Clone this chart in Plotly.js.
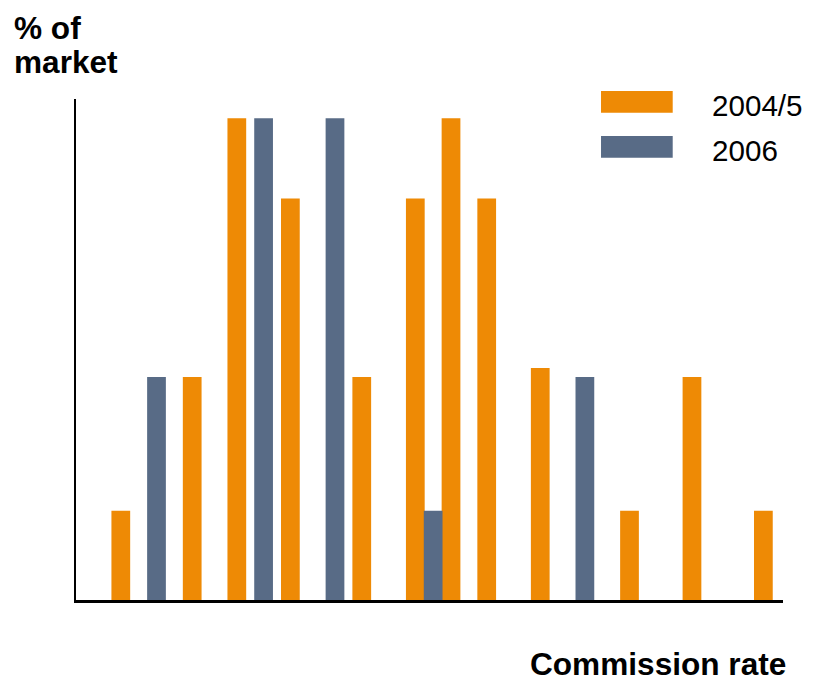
<!DOCTYPE html>
<html>
<head>
<meta charset="utf-8">
<script src="https://cdn.plot.ly/plotly-3.0.1.min.js"></script>
<style>
  html, body { margin: 0; padding: 0; background: #ffffff; }
  #chart { width: 813px; height: 679px; }
</style>
</head>
<body>
<div id="chart"></div>
<script>
// Commission-rate steps (no tick labels are shown on the axis)
const rates2004 = [0, 8, 13, 19, 27, 33, 37, 41, 47, 57, 64, 72];
const share2004 = [2, 5, 10.8, 9, 5, 9, 10.8, 9, 5.2, 2, 5, 2];

const rates2006 = [4, 16, 24, 35, 52];
const share2006 = [5, 10.8, 10.8, 2, 5];

const seriesNames = ['2004/5', '2006'];
const seriesColors = ['#EE8A05', '#586B86'];

const FONT = '"Liberation Sans", Arial, Helvetica, sans-serif';

const traces = [
  {
    type: 'bar', name: seriesNames[0],
    x: rates2004, y: share2004, width: 2.1,
    marker: { color: seriesColors[0], line: { width: 0 } },
    showlegend: false, hoverinfo: 'skip'
  },
  {
    type: 'bar', name: seriesNames[1],
    x: rates2006, y: share2006, width: 2.1,
    marker: { color: seriesColors[1], line: { width: 0 } },
    showlegend: false, hoverinfo: 'skip'
  }
];

// Legend drawn as large swatches with labels to the right
const swatchY = [[0.9727, 1.016], [0.8828, 0.926]];
const labelY = [0.988, 0.898];
const shapes = seriesNames.map((n, i) => ({
  type: 'rect', xref: 'paper', yref: 'paper',
  x0: 0.7426, x1: 0.844, y0: swatchY[i][0], y1: swatchY[i][1],
  fillcolor: seriesColors[i], line: { width: 0 }
}));

const annotations = seriesNames.map((n, i) => ({
  text: n, xref: 'paper', yref: 'paper',
  x: 0.8961, y: labelY[i], xanchor: 'left', yanchor: 'middle',
  showarrow: false, font: { family: FONT, size: 29.6, color: '#000' }
}));

annotations.push(
  { text: '<b>% of</b>', xref: 'paper', yref: 'paper', x: -0.0905, y: 1.1411,
    xanchor: 'left', yanchor: 'middle', showarrow: false,
    font: { family: FONT, size: 31.6, color: '#000' } },
  { text: '<b>market</b>', xref: 'paper', yref: 'paper', x: -0.0905, y: 1.0739,
    xanchor: 'left', yanchor: 'middle', showarrow: false,
    font: { family: FONT, size: 31.6, color: '#000' } },
  { text: '<b>Commission rate</b>', xref: 'paper', yref: 'paper', x: 1.0071, y: -0.1283,
    xanchor: 'right', yanchor: 'middle', showarrow: false,
    font: { family: FONT, size: 31.6, color: '#000' } }
);

const layout = {
  width: 813, height: 679,
  margin: { l: 76, r: 30, t: 99, b: 79 },
  paper_bgcolor: '#ffffff', plot_bgcolor: '#ffffff',
  barmode: 'overlay',
  font: { family: FONT, color: '#000' },
  xaxis: {
    range: [-5.02, 74.2], showgrid: false, zeroline: false,
    showline: true, linecolor: '#000', linewidth: 2.5,
    showticklabels: false, ticks: ''
  },
  yaxis: {
    range: [0, 11.23], showgrid: false, zeroline: false,
    showline: true, linecolor: '#000', linewidth: 2.5,
    showticklabels: false, ticks: ''
  },
  shapes: shapes,
  annotations: annotations
};

Plotly.newPlot('chart', traces, layout, { staticPlot: true, displayModeBar: false });
</script>
</body>
</html>
